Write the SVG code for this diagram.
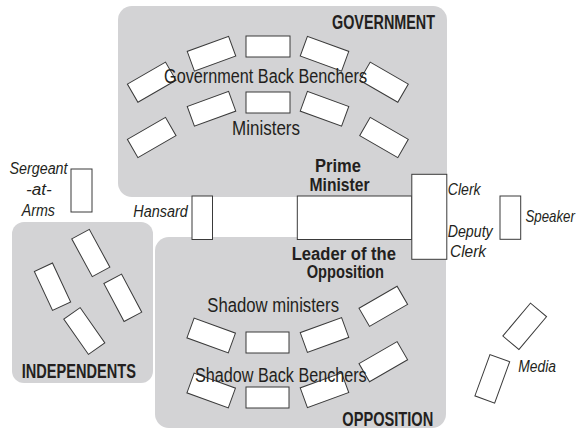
<svg xmlns="http://www.w3.org/2000/svg" width="578" height="430" viewBox="0 0 578 430">
<style>
.area{fill:#d3d3d5;stroke:none}
.b{fill:#fff;stroke:#3a3a3a;stroke-width:1}
text{font-family:"Liberation Sans","Arial",sans-serif;fill:#231f20}
.t{font-size:21px;font-weight:bold}
.n{font-size:18px;font-weight:bold}
.r{font-size:20px}
.i{font-size:16px;font-style:italic}
</style>
<defs>
<rect id="bench" class="b" x="-22" y="-10.5" width="44" height="21"/>
<rect id="ibench" class="b" x="-21.5" y="-10" width="43" height="20"/>
</defs>

<g id="government">
<rect class="area" x="118" y="6" width="329" height="191" rx="14"/>
<rect class="b" x="246" y="36" width="44" height="21"/>
<use href="#bench" transform="translate(211.5,53.7) rotate(-20)"/>
<use href="#bench" transform="translate(324.5,53.7) rotate(20)"/>
<use href="#bench" transform="translate(151.7,82.2) rotate(-30)"/>
<use href="#bench" transform="translate(384,82.2) rotate(30)"/>
<rect class="b" x="246" y="92" width="44" height="21"/>
<use href="#bench" transform="translate(211.5,108.8) rotate(-20)"/>
<use href="#bench" transform="translate(324.5,108.8) rotate(20)"/>
<use href="#bench" transform="translate(151.7,137.5) rotate(-30)"/>
<use href="#bench" transform="translate(384,137.5) rotate(30)"/>
<text class="t" x="332" y="29" textLength="103" lengthAdjust="spacingAndGlyphs">GOVERNMENT</text>
<text class="r" x="164" y="83" textLength="203" lengthAdjust="spacingAndGlyphs">Government Back Benchers</text>
<text class="r" x="232" y="135" textLength="68" lengthAdjust="spacingAndGlyphs">Ministers</text>
<text class="n" x="315" y="171.5" textLength="46" lengthAdjust="spacingAndGlyphs">Prime</text>
<text class="n" x="309.5" y="190.5" textLength="60" lengthAdjust="spacingAndGlyphs">Minister</text>
</g>

<g id="opposition">
<rect class="area" x="155" y="237" width="291" height="191" rx="14"/>
<rect class="b" x="246" y="332" width="43" height="21"/>
<use href="#bench" transform="translate(211.2,335.5) rotate(20)"/>
<use href="#bench" transform="translate(324.5,335) rotate(-20)"/>
<use href="#bench" transform="translate(383.3,306.3) rotate(-30)"/>
<rect class="b" x="246" y="387" width="43" height="21"/>
<use href="#bench" transform="translate(211.2,390.5) rotate(20)"/>
<use href="#bench" transform="translate(324.5,390.2) rotate(-20)"/>
<use href="#bench" transform="translate(383.3,361.7) rotate(-30)"/>
<text class="n" x="291.7" y="260" textLength="104.3" lengthAdjust="spacingAndGlyphs">Leader of the</text>
<text class="n" x="306.7" y="278.3" textLength="77.3" lengthAdjust="spacingAndGlyphs">Opposition</text>
<text class="r" x="207.3" y="311.7" textLength="131.7" lengthAdjust="spacingAndGlyphs">Shadow ministers</text>
<text class="r" x="195" y="381.7" textLength="171.7" lengthAdjust="spacingAndGlyphs">Shadow Back Benchers</text>
<text class="t" x="342.3" y="426" textLength="91" lengthAdjust="spacingAndGlyphs">OPPOSITION</text>
</g>

<g id="independents">
<rect class="area" x="12" y="222" width="141" height="161" rx="12"/>
<use href="#ibench" transform="translate(90.8,253) rotate(61.5)"/>
<use href="#ibench" transform="translate(52.5,286.7) rotate(65)"/>
<use href="#ibench" transform="translate(122.8,297.8) rotate(62)"/>
<use href="#ibench" transform="translate(84.3,331) rotate(55)"/>
<text class="t" x="21.7" y="378.3" textLength="114.3" lengthAdjust="spacingAndGlyphs">INDEPENDENTS</text>
</g>

<g id="sergeant-at-arms">
<rect class="b" x="71" y="169" width="21" height="43"/>
<text class="i" x="9.5" y="174" textLength="58" lengthAdjust="spacingAndGlyphs">Sergeant</text>
<text class="i" x="26" y="194.5" textLength="25.7" lengthAdjust="spacingAndGlyphs">-at-</text>
<text class="i" x="21.7" y="216" textLength="33.3" lengthAdjust="spacingAndGlyphs">Arms</text>
</g>

<g id="hansard">
<rect class="b" x="192" y="196" width="20.5" height="43.5"/>
<text class="i" x="133.3" y="216.5" textLength="54.4" lengthAdjust="spacingAndGlyphs">Hansard</text>
</g>

<g id="table">
<rect class="b" x="297.3" y="196" width="114.5" height="43.5"/>
</g>

<g id="clerks">
<rect class="b" x="411.8" y="174.3" width="35" height="85"/>
<text class="i" x="447.7" y="195" textLength="33" lengthAdjust="spacingAndGlyphs">Clerk</text>
<text class="i" x="447.7" y="237" textLength="45" lengthAdjust="spacingAndGlyphs">Deputy</text>
<text class="i" x="450" y="256.5" textLength="36" lengthAdjust="spacingAndGlyphs">Clerk</text>
</g>

<g id="speaker">
<rect class="b" x="500" y="196" width="20.7" height="43.3"/>
<text class="i" x="0" y="0" transform="translate(525.5,221.7) scale(0.83,1)">Speaker</text>
</g>

<g id="media">
<rect class="b" x="-21.5" y="-10.5" width="43" height="21" transform="translate(524.7,326.3) rotate(-50)"/>
<rect class="b" x="-22" y="-10.5" width="44" height="21" transform="translate(492.3,378.8) rotate(-70)"/>
<text class="i" x="518.3" y="372.3" textLength="37.7" lengthAdjust="spacingAndGlyphs">Media</text>
</g>
</svg>
